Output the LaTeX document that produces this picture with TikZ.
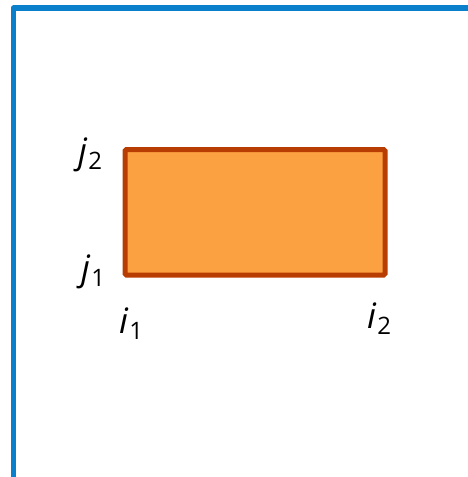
\documentclass[tikz,border=0pt]{standalone}
\usepackage{fontspec}
\setmainfont{Open Sans}
\definecolor{frameblue}{HTML}{0A7FCC}
\definecolor{boxfill}{HTML}{FBA141}
\definecolor{boxline}{HTML}{B83D02}
\newcommand\idxlbl[2]{\textit{#1}\kern1pt\raisebox{-6pt}{\fontsize{24}{24}\selectfont #2}}
\begin{document}
\begin{tikzpicture}[x=1pt,y=-1pt,
  lbl/.style={inner sep=0pt,anchor=base west,font=\fontsize{35}{35}\selectfont}]
\useasboundingbox (0,0) rectangle (467,477);
\draw[frameblue,line width=5.5pt,line join=round] (13.5,480) -- (13.5,8) -- (470,8);
\draw[boxline,fill=boxfill,line width=5pt,rounded corners=1.5pt] (125,149.5) rectangle (385,275);
\node[lbl] (j2) at (78,163) {\idxlbl{j}{2}};
\node[lbl] (j1) at (81,280) {\idxlbl{j}{1}};
\node[lbl] (i1) at (119,333) {\idxlbl{i}{1}};
\node[lbl] (i2) at (367,328) {\idxlbl{i}{2}};
\end{tikzpicture}
\end{document}
